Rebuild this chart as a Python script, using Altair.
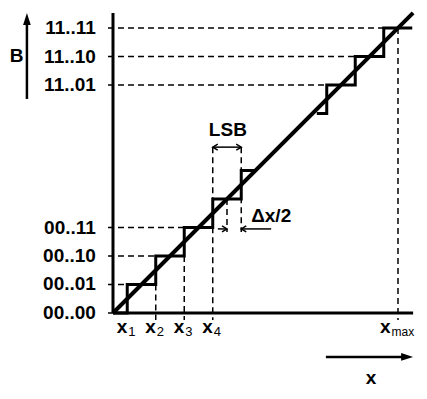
import altair as alt
import pandas as pd

# ---- data (units: 1 LSB on both axes) ----
low_levels = [0, 1, 2, 3]
low_codes = ["00..00", "00..01", "00..10", "00..11"]
high_levels = [8, 9, 10]
high_codes = ["11..01", "11..10", "11..11"]

stair_low_levels = [0, 1, 2, 3, 4, 5]
stair_low_span = [0.0, 4.95]
stair_high_levels = [7, 8, 9, 10]
stair_high_span = [7.15, 10.5]

axis_end = 10.53
tick_pos = [0.5, 1.5, 2.5, 3.5]
tick_sub = ["1", "2", "3", "4"]
x_max = 10.0

# vertical guide lines: position, top, bottom
vguide_u = [1.5, 2.5, 3.5, 4.0, 4.5, 10.0]
vguide_top = [1, 2, 5.82, 4, 5.82, 10]
vguide_bot = [-0.25, -0.25, -0.25, 2.84, 2.84, -0.25]
hguide_left = -0.175

lsb_y = 5.82
dx_y = 2.95

XD = [-3.684, 10.737]
YD = [-2.737, 10.702]
FONT = "Liberation Sans"

xs = alt.Scale(domain=XD, nice=False, zero=False)
ys = alt.Scale(domain=YD, nice=False, zero=False)


def X(f="u"):
    return alt.X(f"{f}:Q", scale=xs, axis=None)


def Y(f="v"):
    return alt.Y(f"{f}:Q", scale=ys, axis=None)


def stairs(levels, span):
    pts = [(span[0], levels[0])]
    for prev, k in zip(levels[:-1], levels[1:]):
        pts += [(k - 0.5, prev), (k - 0.5, k)]
    pts.append((span[1], levels[-1]))
    return pts


rows = []
for seg, (lv, sp) in enumerate([(stair_low_levels, stair_low_span), (stair_high_levels, stair_high_span)]):
    for i, (u, v) in enumerate(stairs(lv, sp)):
        rows.append({"u": u, "v": v, "seg": seg, "o": i})
stair_df = pd.DataFrame(rows)

stair = alt.Chart(stair_df).mark_line(color="black", strokeWidth=3, strokeJoin="miter").encode(
    x=X(), y=Y(), detail="seg:N", order="o:Q")

diag = alt.Chart(pd.DataFrame({"u": [0, axis_end], "v": [0, axis_end]})).mark_line(
    color="black", strokeWidth=4).encode(x=X(), y=Y())

all_levels = low_levels + high_levels
all_codes = low_codes + high_codes
hg = pd.DataFrame({"u": [hguide_left] * len(all_levels),
                   "u2": [max(k - 0.5, 0) for k in all_levels],
                   "v": all_levels, "code": all_codes})
hdash = alt.Chart(hg).mark_rule(color="black", strokeWidth=1.5, strokeDash=[6, 4]).encode(
    x=X(), x2="u2:Q", y=Y())
vg = pd.DataFrame({"u": vguide_u, "v": vguide_top, "v2": vguide_bot})
vdash = alt.Chart(vg).mark_rule(color="black", strokeWidth=1.5, strokeDash=[6, 4]).encode(
    x=X(), y=Y(), y2="v2:Q")

axes_df = pd.DataFrame({"u": [0, 0], "u2": [axis_end, 0], "v": [0, 0], "v2": [0, axis_end]})
axes = alt.Chart(axes_df).mark_rule(color="black", strokeWidth=3).encode(
    x=X(), x2="u2:Q", y=Y(), y2="v2:Q")

thin_df = pd.DataFrame({"u": [3.5, 3.68, 4.5], "u2": [4.5, 4.0, 5.55],
                        "v": [lsb_y, dx_y, dx_y], "v2": [lsb_y, dx_y, dx_y]})
thin = alt.Chart(thin_df).mark_rule(color="black", strokeWidth=1.5).encode(
    x=X(), x2="u2:Q", y=Y(), y2="v2:Q")

big_df = pd.DataFrame({"u": [-3.02, 7.47], "u2": [-3.02, 10.2],
                       "v": [7.51, -1.54], "v2": [10.2, -1.54]})
big = alt.Chart(big_df).mark_rule(color="black", strokeWidth=2.5).encode(
    x=X(), x2="u2:Q", y=Y(), y2="v2:Q")

VHEAD = "M-1,-0.6L0,0L-1,0.6"
heads_df = pd.DataFrame({"u": [3.5, 4.5, 4.0, 4.5], "v": [lsb_y, lsb_y, dx_y, dx_y],
                         "a": [180, 0, 0, 180]})
heads = alt.Chart(heads_df).mark_point(shape=VHEAD, size=100, filled=False, color="black",
                                        strokeWidth=1.5, opacity=1).encode(
    x=X(), y=Y(), angle=alt.Angle("a:Q", scale=None))

FHEAD = "M0,0L-1,-0.32L-1,0.32Z"
bheads_df = pd.DataFrame({"u": [-3.02, axis_end], "v": [10.53, -1.54], "a": [270, 0]})
bheads = alt.Chart(bheads_df).mark_point(shape=FHEAD, size=576, filled=True, color="black",
                                         opacity=1).encode(
    x=X(), y=Y(), angle=alt.Angle("a:Q", scale=None))

ylab = alt.Chart(pd.DataFrame({"u": [-0.6] * len(all_levels), "v": all_levels, "t": all_codes})).mark_text(
    align="right", baseline="middle", font=FONT, fontSize=19, fontWeight="bold", color="black").encode(
    x=X(), y=Y(), text="t:N")

# label anchor = tick position shifted left a little for the wide "max" subscript
xl_df = pd.DataFrame({"u": tick_pos + [x_max - 0.26], "v": [-0.7] * 5, "s": tick_sub + ["max"],
                      "fs": [13, 13, 13, 13, 12]})
xl_main = alt.Chart(xl_df).transform_calculate(t="'x'").mark_text(
    align="right", baseline="alphabetic", font=FONT, fontSize=19, fontWeight="bold", color="black").encode(
    x=X(), y=Y(), text="t:N")
xl_sub = alt.Chart(xl_df).transform_calculate(v2="datum.v - 0.1").mark_text(
    align="left", baseline="alphabetic", font=FONT, color="black", dx=1).encode(
    x=X(), y=Y("v2"), text="s:N", size=alt.Size("fs:Q", scale=None))

ann_df = pd.DataFrame({"u": [-3.38, 4.03, 5.55, 9.05], "v": [9.02, 6.42, 3.40, -2.28],
                       "t": ["B", "LSB", "Δx/2", "x"]})
ann = alt.Chart(ann_df).mark_text(align="center", baseline="middle", font=FONT, fontSize=19,
                                  fontWeight="bold", color="black").encode(
    x=X(), y=Y(), text="t:N")

chart = alt.layer(hdash, vdash, axes, stair, diag, thin, big, heads, bheads,
                  ylab, xl_main, xl_sub, ann).properties(
    width=411, height=383, padding=0, autosize=alt.AutoSizeParams(type="none"),
    background="white").configure_view(stroke=None)

chart.save("out.html", embed_options={"renderer": "svg", "actions": False})
